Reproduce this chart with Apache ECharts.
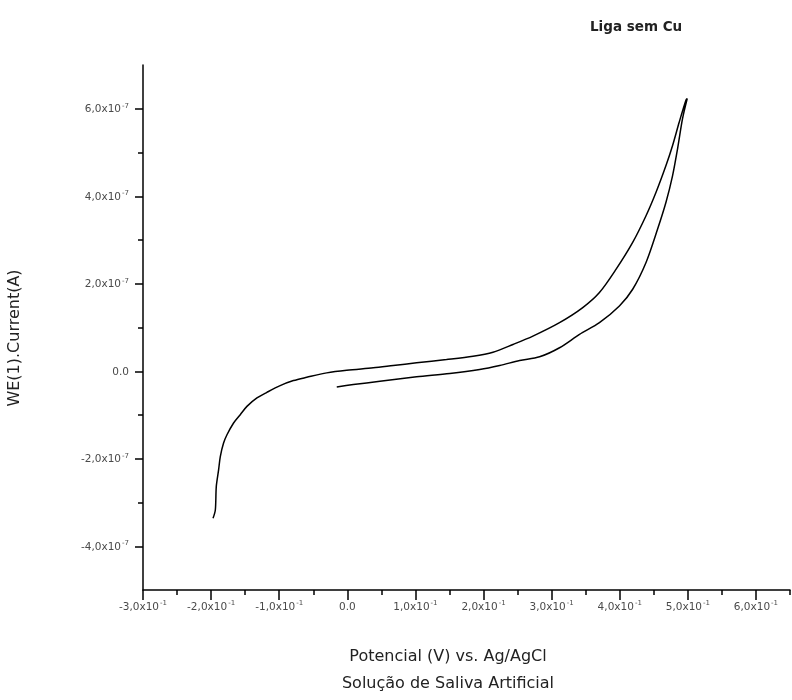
<!DOCTYPE html>
<html><head><meta charset="utf-8">
<script src="https://cdn.jsdelivr.net/npm/echarts@6/dist/echarts.min.js"></script>
<style>html,body{margin:0;padding:0;background:#fff}#c{width:792px;height:700px}</style>
</head><body><div id="c"></div>
<script>
// Potential (V) vs. Ag/AgCl — scan path
const potentialV = [
  -0.0155, 0.0088, 0.0479, 0.1017, 0.1505, 0.1944, 0.2237, 0.2530, 0.2823, 0.3116,
  0.3409, 0.3702, 0.3995, 0.4190, 0.4386, 0.4556, 0.4679, 0.4776, 0.4849, 0.4922, 0.4991,
  0.4972, 0.4874, 0.4776, 0.4679, 0.4533, 0.4386, 0.4190, 0.3947, 0.3702, 0.3457,
  0.3116, 0.2725, 0.2432, 0.2139, 0.1846, 0.1456, 0.1017, 0.0674, 0.0381, -0.0009,
  -0.0302, -0.0595, -0.0791, -0.0986, -0.1181, -0.1327, -0.1474, -0.1572, -0.1670,
  -0.1767, -0.1817, -0.1865, -0.1890, -0.1924, -0.1938, -0.1972
];
// Current in units of 1e-7 A
const currentE7 = [
  -0.358, -0.305, -0.229, -0.128, -0.053, 0.039, 0.131, 0.245, 0.330, 0.537,
  0.842, 1.110, 1.491, 1.874, 2.486, 3.250, 3.862, 4.472, 5.085, 5.773, 6.232,
  6.193, 5.697, 5.161, 4.702, 4.092, 3.555, 2.945, 2.333, 1.798, 1.454,
  1.110, 0.803, 0.612, 0.436, 0.344, 0.268, 0.193, 0.131, 0.078, 0.023,
  -0.037, -0.138, -0.213, -0.328, -0.482, -0.610, -0.803, -0.993, -1.183,
  -1.452, -1.642, -1.950, -2.255, -2.638, -3.172, -3.362
];
const xTickMajor = [-0.3, -0.2, -0.1, 0, 0.1, 0.2, 0.3, 0.4, 0.5, 0.6];
const xTickMinor = [-0.25, -0.15, -0.05, 0.05, 0.15, 0.25, 0.35, 0.45, 0.55, 0.65];
const xTickText = ['-3,0x10|-1','-2,0x10|-1','-1,0x10|-1','0.0','1,0x10|-1','2,0x10|-1','3,0x10|-1','4,0x10|-1','5,0x10|-1','6,0x10|-1'];
const yTickMajor = [-4e-7, -2e-7, 0, 2e-7, 4e-7, 6e-7];
const yTickMinor = [-3e-7, -1e-7, 1e-7, 3e-7, 5e-7];
const yTickText = ['-4,0x10|-7','-2,0x10|-7','0.0','2,0x10|-7','4,0x10|-7','6,0x10|-7'];

const chartTitle = 'Liga sem Cu';
const xName1 = 'Potencial (V) vs. Ag/AgCl';
const xName2 = 'Solução de Saliva Artificial';
const yName = 'WE(1).Current(A)';

const points = potentialV.map((v, i) => [v, currentE7[i] * 1e-7]);

function fmt(list, vals) {
  return function (val) {
    let idx = -1;
    for (let i = 0; i < vals.length; i++) if (Math.abs(vals[i] - val) < Math.abs(vals[0] - vals[1]) * 1e-3) idx = i;
    if (idx < 0) return '';
    const t = list[idx];
    if (t.indexOf('|') < 0) return '{a|' + t + '}';
    const p = t.split('|');
    return '{a|' + p[0] + '}{s|' + p[1] + '}';
  };
}
const FONT = 'DejaVu Sans';
const rich = {
  a: { fontFamily: FONT, fontSize: 10.5, color: '#4a4a4a', lineHeight: 13, verticalAlign: 'bottom' },
  s: { fontFamily: FONT, fontSize: 7, color: '#4a4a4a', lineHeight: 13, verticalAlign: 'top', padding: [0, 0, 6, 1] }
};

const chart = echarts.init(document.getElementById('c'), null, { renderer: 'canvas' });
const X = { min: -0.3, max: 0.65 };
const Y = { min: -5e-7, max: 7e-7 };
chart.setOption({
  animation: false,
  backgroundColor: '#fff',
  grid: { left: 143, right: 2, top: 65, bottom: 110, containLabel: false },
  xAxis: [
    {
      type: 'value', min: X.min, max: X.max, interval: 0.1,
      axisLine: { show: true, onZero: false, lineStyle: { color: '#000', width: 1.5 } },
      axisTick: { show: true, customValues: xTickMajor, length: 10, lineStyle: { color: '#000', width: 1.5 } },
      axisLabel: { show: true, customValues: xTickMajor, margin: 10, formatter: fmt(xTickText, xTickMajor), rich: rich },
      splitLine: { show: false }
    },
    {
      type: 'value', min: X.min, max: X.max, position: 'bottom', gridIndex: 0,
      axisLine: { show: false, onZero: false },
      axisTick: { show: true, customValues: xTickMinor, length: 5, lineStyle: { color: '#000', width: 1.5 } },
      axisLabel: { show: false },
      splitLine: { show: false }
    }
  ],
  yAxis: [
    {
      type: 'value', min: Y.min, max: Y.max, interval: 1e-7,
      axisLine: { show: true, onZero: false, lineStyle: { color: '#000', width: 1.5 } },
      axisTick: { show: true, customValues: yTickMajor, length: 8, lineStyle: { color: '#000', width: 1.5 } },
      axisLabel: { show: true, customValues: yTickMajor, margin: 14, formatter: fmt(yTickText, yTickMajor), rich: rich },
      splitLine: { show: false }
    },
    {
      type: 'value', min: Y.min, max: Y.max, position: 'left', gridIndex: 0,
      axisLine: { show: false, onZero: false },
      axisTick: { show: true, customValues: yTickMinor, length: 5, lineStyle: { color: '#000', width: 1.5 } },
      axisLabel: { show: false },
      splitLine: { show: false }
    }
  ],
  graphic: [
    { type: 'text', left: 590, top: 20, style: { text: chartTitle, font: '600 13.5px "' + FONT + '"', fill: '#222' } },
    { type: 'text', x: 448, y: 657, style: { text: xName1, font: '16px "' + FONT + '"', fill: '#222', align: 'center', verticalAlign: 'middle' } },
    { type: 'text', x: 448, y: 684, style: { text: xName2, font: '16px "' + FONT + '"', fill: '#222', align: 'center', verticalAlign: 'middle' } },
    { type: 'text', x: 15, y: 338, rotation: Math.PI / 2, style: { text: yName, font: '16px "' + FONT + '"', fill: '#222', align: 'center', verticalAlign: 'middle' } }
  ],
  series: [{
    type: 'line', xAxisIndex: 0, yAxisIndex: 0, data: points, showSymbol: false, smooth: 0.3,
    lineStyle: { color: '#000', width: 1.5 }
  }]
});
</script></body></html>
